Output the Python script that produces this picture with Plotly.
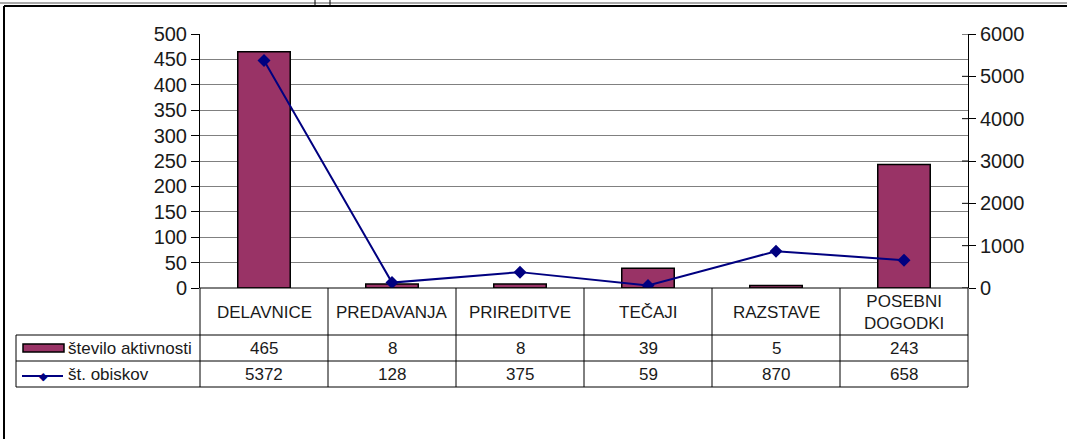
import plotly.graph_objects as go

categories = ["DELAVNICE", "PREDAVANJA", "PRIREDITVE", "TEČAJI", "RAZSTAVE", "POSEBNI DOGODKI"]
activities = [465, 8, 8, 39, 5, 243]
visits = [5372, 128, 375, 59, 870, 658]
series_names = ["število aktivnosti", "št. obiskov"]

W, H = 1067, 439
X0, X1 = 200, 968      # plot area px
Y0, Y1 = 288, 34       # bottom/top px
ROWS = [288, 335, 361, 387]
TABLE_LEFT = 16

def px(x):
    return x / W

def py(y):
    return 1 - y / H

FONT = "Liberation Sans, Arial, sans-serif"
BAR_COLOR = "#993366"
LINE_COLOR = "#000080"
TXT = "#1a1a1a"

fig = go.Figure()
fig.add_trace(go.Bar(
    x=categories, y=activities, name=series_names[0],
    marker=dict(color=BAR_COLOR, line=dict(color="black", width=1.5)),
    width=0.41, yaxis="y",
))
fig.add_trace(go.Scatter(
    x=categories, y=visits, name=series_names[1], mode="lines+markers",
    line=dict(color=LINE_COLOR, width=2),
    marker=dict(symbol="diamond", size=10, color=LINE_COLOR),
    yaxis="y2",
))

shapes = []
shapes.append(dict(type="line", xref="paper", yref="paper",
                   x0=px(X0), x1=px(X1), y0=py(ROWS[0]), y1=py(ROWS[0]),
                   line=dict(color="black", width=1)))
for r in ROWS[1:]:
    shapes.append(dict(type="line", xref="paper", yref="paper",
                       x0=px(TABLE_LEFT), x1=px(X1), y0=py(r), y1=py(r),
                       line=dict(color="black", width=1)))
n = len(categories)
colw = (X1 - X0) / n
for i in range(n + 1):
    xx = X0 + i * colw
    shapes.append(dict(type="line", xref="paper", yref="paper",
                       x0=px(xx), x1=px(xx), y0=py(ROWS[0]), y1=py(ROWS[3]),
                       line=dict(color="black", width=1)))
shapes.append(dict(type="line", xref="paper", yref="paper",
                   x0=px(TABLE_LEFT), x1=px(TABLE_LEFT), y0=py(ROWS[1]), y1=py(ROWS[3]),
                   line=dict(color="black", width=1)))
for v in range(0, 6001, 1000):
    shapes.append(dict(type="line", xref="paper", yref="y2",
                       x0=px(X1 - 6), x1=px(X1), y0=v, y1=v,
                       line=dict(color="black", width=1)))
shapes.append(dict(type="rect", xref="paper", yref="paper",
                   x0=px(23), x1=px(64), y0=py(352), y1=py(344),
                   fillcolor=BAR_COLOR, line=dict(color="black", width=1.5)))
shapes.append(dict(type="line", xref="paper", yref="paper",
                   x0=px(22), x1=px(63), y0=py(376), y1=py(376),
                   line=dict(color=LINE_COLOR, width=2)))
shapes.append(dict(type="line", xref="paper", yref="paper",
                   x0=0, x1=1, y0=py(3), y1=py(3),
                   line=dict(color="#555555", width=1)))
shapes.append(dict(type="line", xref="paper", yref="paper",
                   x0=px(4), x1=1, y0=py(6), y1=py(6),
                   line=dict(color="black", width=2)))
shapes.append(dict(type="line", xref="paper", yref="paper",
                   x0=px(4), x1=px(4), y0=py(6), y1=0,
                   line=dict(color="black", width=2)))
shapes.append(dict(type="line", xref="paper", yref="paper",
                   x0=px(315), x1=px(315), y0=1, y1=py(5),
                   line=dict(color="black", width=1)))
shapes.append(dict(type="line", xref="paper", yref="paper",
                   x0=px(330), x1=px(330), y0=1, y1=py(5),
                   line=dict(color="black", width=1)))

annotations = []
for i, c in enumerate(categories):
    cx = X0 + (i + 0.5) * colw
    label = c.replace(" ", "<br>")
    annotations.append(dict(x=px(cx), y=py((ROWS[0] + ROWS[1]) / 2 + 1), xref="paper", yref="paper",
                            text=label, showarrow=False, font=dict(size=17, color=TXT, family=FONT),
                            xanchor="center", yanchor="middle"))
    annotations.append(dict(x=px(cx), y=py((ROWS[1] + ROWS[2]) / 2), xref="paper", yref="paper",
                            text=str(activities[i]), showarrow=False, font=dict(size=17, color=TXT, family=FONT),
                            xanchor="center", yanchor="middle"))
    annotations.append(dict(x=px(cx), y=py((ROWS[2] + ROWS[3]) / 2), xref="paper", yref="paper",
                            text=str(visits[i]), showarrow=False, font=dict(size=17, color=TXT, family=FONT),
                            xanchor="center", yanchor="middle"))
annotations.append(dict(x=px(66), y=py((ROWS[1] + ROWS[2]) / 2), xref="paper", yref="paper",
                        text=series_names[0], showarrow=False, font=dict(size=17, color=TXT, family=FONT),
                        xanchor="left", yanchor="middle"))
annotations.append(dict(x=px(66), y=py((ROWS[2] + ROWS[3]) / 2), xref="paper", yref="paper",
                        text=series_names[1], showarrow=False, font=dict(size=17, color=TXT, family=FONT),
                        xanchor="left", yanchor="middle"))
annotations.append(dict(x=px(43), y=py(376), xref="paper", yref="paper",
                        text="◆", showarrow=False, font=dict(size=11, color=LINE_COLOR, family="DejaVu Sans"),
                        xanchor="center", yanchor="middle"))

fig.update_layout(
    width=W, height=H,
    margin=dict(l=0, r=0, t=0, b=0, pad=0, autoexpand=False),
    paper_bgcolor="white", plot_bgcolor="white",
    showlegend=False,
    font=dict(family=FONT, size=20, color=TXT),
    xaxis=dict(domain=[px(X0), px(X1)], range=[-0.5, n - 0.5], showticklabels=False,
               showgrid=False, zeroline=False, showline=False, ticks="", automargin=False),
    yaxis=dict(domain=[py(Y0), py(Y1)], range=[0, 500], dtick=50, ticks="outside", ticklen=8,
               tickcolor="black", showline=True, linecolor="black", linewidth=1,
               gridcolor="#808080", gridwidth=1, zeroline=False, automargin=False,
               tickfont=dict(size=20, family=FONT, color=TXT)),
    yaxis2=dict(overlaying="y", side="right", anchor="x", range=[0, 6000], dtick=1000,
                ticks="outside", ticklen=7, tickcolor="black", showline=True, linecolor="black",
                linewidth=1, showgrid=False, zeroline=False, automargin=False,
                tickfont=dict(size=20, family=FONT, color=TXT)),
    shapes=shapes, annotations=annotations,
)

fig.write_html("out.html", config={"displayModeBar": False, "responsive": False},
               post_script="document.body.style.margin='0px';document.body.style.overflow='hidden';")
